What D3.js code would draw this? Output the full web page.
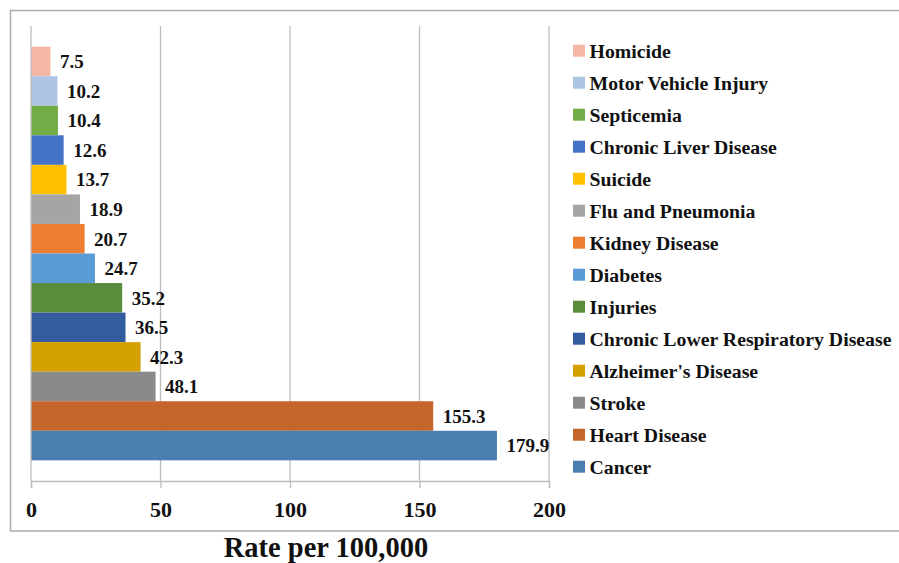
<!DOCTYPE html>
<html>
<head>
<meta charset="utf-8">
<script src="https://cdn.jsdelivr.net/npm/d3@7"></script>
<style>
  body { margin: 0; background: #fff; }
  svg text { font-family: "Liberation Serif", "Times New Roman", serif; font-weight: bold; fill: #111; }
</style>
</head>
<body>
<div id="chart"></div>
<script>
// causes, from top of the legend to the bottom
const causes = ["Homicide", "Motor Vehicle Injury", "Septicemia", "Chronic Liver Disease", "Suicide",
  "Flu and Pneumonia", "Kidney Disease", "Diabetes", "Injuries", "Chronic Lower Respiratory Disease",
  "Alzheimer's Disease", "Stroke", "Heart Disease", "Cancer"];
const rates = [7.5, 10.2, 10.4, 12.6, 13.7, 18.9, 20.7, 24.7, 35.2, 36.5, 42.3, 48.1, 155.3, 179.9];
const colors = ["#F4B8A4", "#ADC6E6", "#70AD47", "#4472C4", "#FFC000", "#A5A5A5", "#ED7D31",
  "#5B9BD5", "#5A8D3B", "#335C9E", "#D4A000", "#8A8A8A", "#C4652A", "#4A7EB1"];
const xTicks = [0, 50, 100, 150, 200];
const xTitle = "Rate per 100,000";

const width = 899, height = 563;
const data = causes.map((c, i) => ({ cause: c, value: rates[i], color: colors[i] }));

const svg = d3.select("#chart").append("svg")
  .attr("width", width)
  .attr("height", height);

// chart frame
svg.append("rect")
  .attr("x", 10.5).attr("y", 10.5)
  .attr("width", 920).attr("height", 520.5)
  .attr("fill", "none")
  .attr("stroke", "#ABABAB")
  .attr("stroke-width", 1.5);

const x = d3.scaleLinear().domain([0, 200]).range([31, 549]);
const y = d3.scaleBand().domain(causes).range([26, 481]).paddingInner(0).paddingOuter(0.7);

// gridlines
svg.append("g").selectAll("line")
  .data(xTicks.slice(1))
  .enter().append("line")
  .attr("x1", d => x(d)).attr("x2", d => x(d))
  .attr("y1", 26).attr("y2", 481)
  .attr("stroke", "#BDBDBD")
  .attr("stroke-width", 1.3);

// bars
svg.append("g").selectAll("rect")
  .data(data)
  .enter().append("rect")
  .attr("x", x(0))
  .attr("y", d => y(d.cause))
  .attr("width", d => x(d.value) - x(0))
  .attr("height", y.bandwidth())
  .attr("fill", d => d.color);

// value labels
svg.append("g").selectAll("text")
  .data(data)
  .enter().append("text")
  .attr("x", d => x(d.value) + 9.5)
  .attr("y", d => y(d.cause) + y.bandwidth() / 2)
  .attr("dy", "0.36em")
  .style("font-size", "19px")
  .text(d => d.value.toFixed(1));

// category axis (left vertical line)
svg.append("line")
  .attr("x1", x(0)).attr("x2", x(0))
  .attr("y1", 26).attr("y2", 481)
  .attr("stroke", "#BDBDBD")
  .attr("stroke-width", 1.3);

// value axis
const xAxis = svg.append("g")
  .attr("transform", `translate(0,481)`)
  .call(d3.axisBottom(x).tickValues(xTicks).tickSize(7).tickPadding(13));
xAxis.select(".domain").attr("stroke", "#BDBDBD").attr("stroke-width", 1.3);
xAxis.selectAll(".tick line").attr("stroke", "#BDBDBD").attr("stroke-width", 1.3);
xAxis.selectAll(".tick text")
  .style("font-size", "22px")
  .style("font-family", "\"Liberation Serif\", serif")
  .attr("fill", "#111");

svg.append("text")
  .attr("x", 326)
  .attr("y", 557)
  .attr("text-anchor", "middle")
  .style("font-size", "28.5px")
  .text(xTitle);

// legend
const legend = svg.append("g").selectAll("g")
  .data(data)
  .enter().append("g")
  .attr("transform", (d, i) => `translate(573,${50.7 + i * 32})`);
legend.append("rect")
  .attr("x", 0).attr("y", -6)
  .attr("width", 12).attr("height", 12)
  .attr("fill", d => d.color);
legend.append("text")
  .attr("x", 16.5)
  .attr("dy", "0.35em")
  .style("font-size", "19.8px")
  .text(d => d.cause);
</script>
</body>
</html>
